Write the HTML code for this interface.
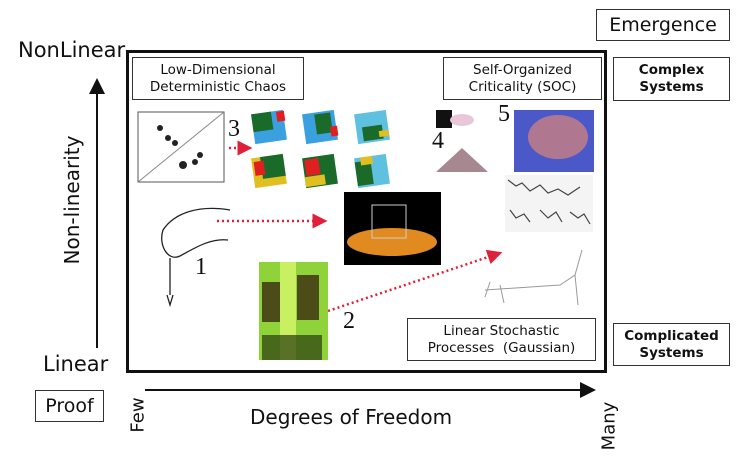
<!DOCTYPE html>
<html><head><meta charset="utf-8"><style>
body{margin:0;width:739px;height:463px;background:#fff;position:relative;overflow:hidden;font-family:"DejaVu Sans","Liberation Sans",sans-serif;color:#111}
.a{position:absolute}
.bx{position:absolute;border:1.5px solid #333;background:#fff;text-align:center;font-size:13.5px;line-height:17px;box-sizing:border-box;display:flex;align-items:center;justify-content:center}
.num{position:absolute;font-family:"Liberation Serif",serif;font-size:24px}
</style></head><body>
<div class="a" style="left:126px;top:50px;width:481px;height:323px;border:3px solid #111;box-sizing:border-box"></div>
<div class="bx" style="left:132px;top:57px;width:172px;height:43px">Low-Dimensional<br>Deterministic Chaos</div>
<div class="bx" style="left:443px;top:57px;width:159px;height:43px">Self-Organized<br>Criticality (SOC)</div>
<div class="bx" style="left:613px;top:57px;width:117px;height:44px;font-weight:bold">Complex<br>Systems</div>
<div class="bx" style="left:596px;top:9px;width:134px;height:32px;font-size:19px">Emergence</div>
<div class="bx" style="left:407px;top:318px;width:189px;height:43px">Linear Stochastic<br>Processes&nbsp; (Gaussian)</div>
<div class="bx" style="left:613px;top:323px;width:117px;height:43px;font-weight:bold">Complicated<br>Systems</div>
<div class="bx" style="left:35px;top:390px;width:69px;height:32px;font-size:19px">Proof</div>
<div class="a" style="left:18px;top:38px;font-size:21px">NonLinear</div>
<div class="a" style="left:43px;top:352px;font-size:21px">Linear</div>
<div class="a" style="left:250px;top:405px;font-size:20px">Degrees of Freedom</div>
<div class="a" style="left:72px;top:200px;transform:translate(-50%,-50%) rotate(-90deg);font-size:20px;white-space:nowrap">Non-linearity</div>
<div class="a" style="left:138px;top:415px;transform:translate(-50%,-50%) rotate(-90deg);font-size:18px">Few</div>
<div class="a" style="left:609px;top:426px;transform:translate(-50%,-50%) rotate(-90deg);font-size:18px">Many</div>
<svg class="a" style="left:0;top:0" width="739" height="463">
<defs><marker id="ah" markerWidth="8" markerHeight="8" refX="7" refY="4" orient="auto"><path d="M0,0L8,4L0,8z" fill="#111"/></marker>
<marker id="rh" markerWidth="6" markerHeight="6" refX="5" refY="3" orient="auto"><path d="M0,0L6,3L0,6z" fill="#e0203a"/></marker></defs>
<line x1="97" y1="348" x2="97" y2="80" stroke="#111" stroke-width="2" marker-end="url(#ah)"/>
<line x1="145" y1="390" x2="594" y2="390" stroke="#111" stroke-width="2" marker-end="url(#ah)"/>
<g stroke="#e0203a" stroke-width="2.5" stroke-dasharray="2,3" fill="none">
<line x1="229" y1="148" x2="250" y2="148" marker-end="url(#rh)"/>
<line x1="217" y1="221" x2="325" y2="221" marker-end="url(#rh)"/>
<line x1="328" y1="311" x2="500" y2="253" marker-end="url(#rh)"/>
</g>
<rect x="138" y="112" width="86" height="70" fill="none" stroke="#555"/>
<line x1="138" y1="182" x2="224" y2="112" stroke="#888"/>
<g fill="#222"><circle cx="160" cy="128" r="3"/><circle cx="168" cy="138" r="3"/><circle cx="175" cy="143" r="3"/><circle cx="183" cy="165" r="4"/><circle cx="195" cy="162" r="3"/><circle cx="200" cy="155" r="3"/></g>
<g>
<g transform="rotate(-8 269 127)"><rect x="253" y="112" width="32" height="30" fill="#3aa0e0"/><rect x="253" y="112" width="20" height="18" fill="#1a6a2a"/><rect x="278" y="113" width="8" height="10" fill="#e02020"/></g>
<g transform="rotate(-8 320 127)"><rect x="304" y="112" width="32" height="30" fill="#3aa0e0"/><rect x="316" y="114" width="16" height="20" fill="#1a6a2a"/><rect x="330" y="128" width="7" height="10" fill="#e02020"/></g>
<g transform="rotate(-8 372 127)"><rect x="356" y="112" width="32" height="30" fill="#60c0e0"/><rect x="362" y="126" width="20" height="14" fill="#1a6a2a"/><rect x="378" y="132" width="10" height="6" fill="#e0c020"/></g>
<g transform="rotate(-8 269 171)"><rect x="253" y="156" width="32" height="30" fill="#e0c020"/><rect x="262" y="156" width="23" height="22" fill="#1a6a2a"/><rect x="255" y="160" width="10" height="14" fill="#e02020"/></g>
<g transform="rotate(-8 320 171)"><rect x="304" y="156" width="32" height="30" fill="#1a6a2a"/><rect x="306" y="158" width="14" height="16" fill="#e02020"/><rect x="304" y="175" width="20" height="10" fill="#e0c020"/></g>
<g transform="rotate(-8 372 171)"><rect x="356" y="156" width="32" height="30" fill="#60c0e0"/><rect x="356" y="160" width="16" height="24" fill="#1a6a2a"/><rect x="362" y="156" width="12" height="8" fill="#e0c020"/></g>
</g>
<rect x="344" y="192" width="97" height="73" fill="#000"/>
<ellipse cx="392" cy="242" rx="45" ry="14" fill="#e08a20"/>
<rect x="372" y="205" width="34" height="33" fill="none" stroke="#ccc"/>
<rect x="259" y="262" width="69" height="98" fill="#8fd23a"/>
<rect x="280" y="262" width="16" height="98" fill="#c8f060"/>
<rect x="262" y="282" width="18" height="40" fill="#3a2a10" opacity=".8"/><rect x="297" y="275" width="22" height="45" fill="#3a2a10" opacity=".8"/>
<rect x="262" y="335" width="60" height="25" fill="#2a3a10" opacity=".7"/>
<rect x="436" y="110" width="16" height="18" fill="#111"/><ellipse cx="462" cy="120" rx="12" ry="6" fill="#e8c8d8"/>
<path d="M436,172 L462,148 L488,172Z" fill="#a88890"/>
<rect x="514" y="110" width="80" height="62" fill="#4a58c8"/>
<ellipse cx="558" cy="137" rx="30" ry="22" fill="#b07890"/>
<rect x="505" y="175" width="88" height="57" fill="#f4f4f4"/>
<g stroke="#444" fill="none" stroke-width="1.2"><path d="M508,180 l8,6 l6,-3 l8,8 l10,-6 l8,8 l10,-4 l10,6 l12,-8 M510,210 l6,8 l8,-4 l6,8 M540,210 l8,8 l8,-6 l6,10 M570,212 l8,6 l6,-4 l6,10"/></g>
<g stroke="#999" fill="none"><path d="M485,290 L560,285 L575,275 L582,250 M575,275 L578,305 M490,282 l-5,15 M500,285 l4,18"/></g>
<g stroke="#222" fill="none" stroke-width="1.3"><path d="M230,210 C200,205 175,212 163,230 C158,245 168,262 180,256 C195,248 210,238 228,240 M170,258 L170,295 M167,295 L170,305 L173,295"/></g>
</svg>
<div class="num" style="left:228px;top:116px">3</div>
<div class="num" style="left:432px;top:128px">4</div>
<div class="num" style="left:498px;top:101px">5</div>
<div class="num" style="left:195px;top:254px">1</div>
<div class="num" style="left:343px;top:308px">2</div>
</body></html>
